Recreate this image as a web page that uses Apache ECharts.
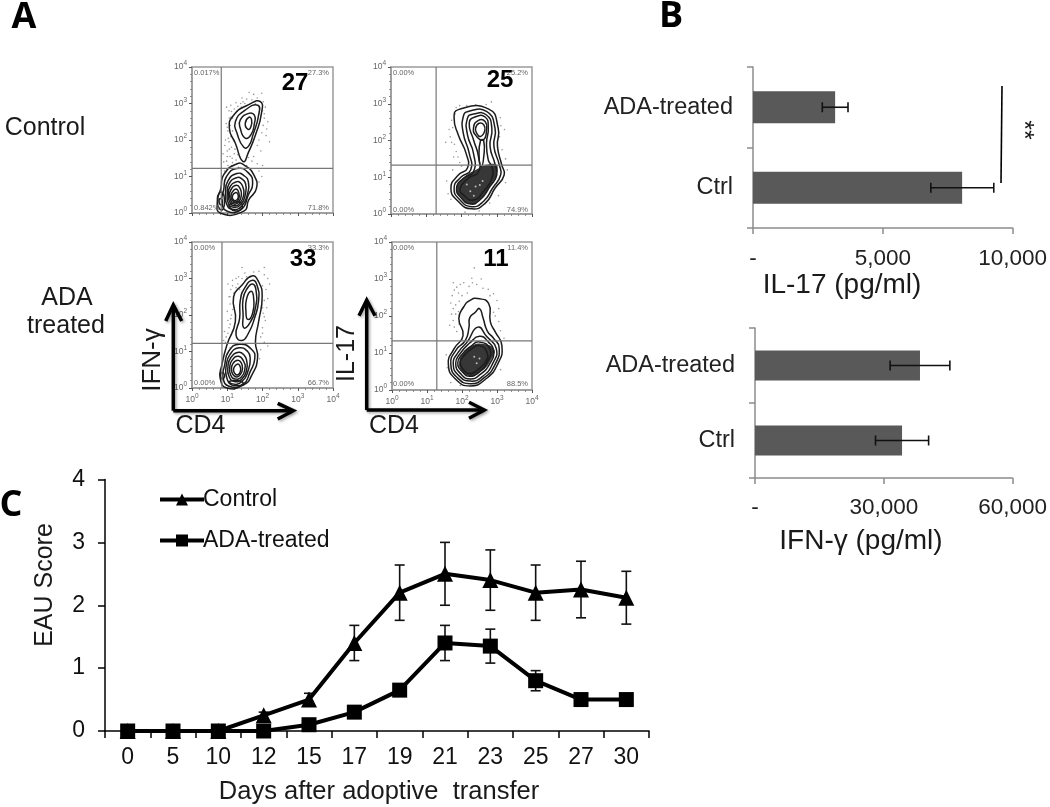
<!DOCTYPE html>
<html><head><meta charset="utf-8">
<style>html,body{margin:0;padding:0;background:#fff}#c{width:1050px;height:807px}</style>
<script src="https://cdn.jsdelivr.net/npm/echarts@6/dist/echarts.min.js"></script>
</head><body><div id="c"></div>
<script>
// ---------- panel C ----------
const days=['0','5','10','12','15','17','19','21','23','25','27','30'];
const control=[0,0,0,0.25,0.5,1.4,2.2,2.5,2.4,2.2,2.25,2.12];
const controlLow=[0,0,0,0.15,0.4,1.12,1.76,2.0,1.92,1.76,1.8,1.7];
const controlHigh=[0,0,0,0.3,0.6,1.68,2.64,3.0,2.88,2.64,2.7,2.54];
const ada=[0,0,0,0,0.1,0.3,0.65,1.4,1.35,0.8,0.5,0.5];
const adaLow=[0,0,0,0,0.07,0.25,0.58,1.12,1.08,0.64,0.45,0.45];
const adaHigh=[0,0,0,0,0.13,0.35,0.72,1.68,1.62,0.96,0.55,0.55];
const eauTicks=[0,1,2,3,4];
// ---------- panel B ----------
const groups=['Ctrl','ADA-treated'];
const il17=[8056,3164];
const il17Low=[6850,2670];
const il17High=[9275,3660];
const ifng=[34250,38430];
const ifngLow=[28070,31470];
const ifngHigh=[40440,45390];
// ---------- panel A : flow plots, coordinates in log10 decades ----------
const decades=[0,1,2,3,4];
const gates=[[0.83,1.22],[1.28,1.33],[0.85,1.22],[1.28,1.33]];
const ringsTL=[
[1.45,1.41,1.23,1.91,1.06,2.32,1.18,2.68,1.61,2.97,1.94,3.05,1.97,2.73,1.80,2.14,1.61,1.68],
[1.47,1.80,1.28,2.18,1.23,2.50,1.51,2.82,1.87,2.95,1.89,2.68,1.73,2.14,1.61,1.84],
[1.51,2.05,1.37,2.32,1.37,2.55,1.61,2.73,1.77,2.68,1.77,2.45,1.67,2.14],
[1.59,2.29,1.51,2.45,1.61,2.62,1.69,2.56,1.67,2.36],
[1.28,1.35,0.90,1.05,0.82,0.68,0.73,0.36,0.80,0.0,1.47,0.05,1.61,0.36,1.83,0.68,1.75,1.05,1.51,1.29],
[1.27,1.22,0.98,1.0,0.9,0.65,0.85,0.3,1.0,0.05,1.4,0.1,1.6,0.5,1.72,0.8,1.6,1.1],
[1.27,1.08,1.02,0.88,0.95,0.55,0.98,0.25,1.15,0.1,1.42,0.2,1.58,0.55,1.6,0.85,1.48,1.02],
[1.27,0.97,1.05,0.8,1.0,0.52,1.03,0.27,1.18,0.16,1.4,0.25,1.52,0.55,1.52,0.8,1.42,0.93],
[1.27,0.86,1.08,0.72,1.03,0.5,1.07,0.3,1.2,0.2,1.37,0.28,1.47,0.52,1.44,0.72,1.37,0.83],
[1.26,0.76,1.1,0.63,1.07,0.45,1.12,0.3,1.22,0.24,1.34,0.32,1.4,0.5,1.37,0.66],
[1.25,0.66,1.13,0.55,1.11,0.42,1.17,0.32,1.26,0.3,1.33,0.4,1.33,0.55],
[1.24,0.56,1.15,0.48,1.16,0.38,1.24,0.34,1.31,0.42,1.3,0.52],
[0.78,0.55,0.72,0.35,0.78,0.12,0.88,0.1,0.92,0.35,0.87,0.55],
[0.8,0.4,0.77,0.3,0.82,0.22,0.86,0.32],
[1.05,0.2,1.2,0.06,1.42,0.14,1.35,0.3,1.12,0.25]];
const ringsTR=[
[1.79,2.61,1.91,2.84,2.76,2.86,3.04,2.34,3.02,1.84,3.14,1.34,3.21,1.06,2.95,0.70,2.67,0.29,2.29,0.14,1.91,0.34,1.70,0.70,1.91,1.06,2.17,1.25,2.13,1.65,1.91,2.15],
[2.05,2.65,2.19,2.79,2.71,2.79,2.95,2.34,2.92,1.84,3.07,1.34,3.11,1.06,2.88,0.70,2.62,0.34,2.29,0.2,1.96,0.38,1.79,0.70,1.98,1.0,2.26,1.2,2.22,1.65,2.05,2.2],
[2.17,2.61,2.34,2.72,2.7,2.7,2.86,2.34,2.81,1.84,2.95,1.36,3.0,1.06,2.81,0.75,2.52,0.38,2.26,0.27,2.0,0.43,1.86,0.7,2.05,0.97,2.34,1.15,2.34,1.65,2.17,2.15],
[2.22,2.47,2.38,2.64,2.67,2.64,2.76,2.34,2.71,1.93,2.76,1.47,2.86,1.29,2.88,1.02,2.62,0.61,2.34,0.38,2.05,0.52,1.96,0.7,2.19,0.97,2.48,1.15,2.48,1.57,2.34,2.02],
[2.34,2.34,2.48,2.55,2.67,2.52,2.71,2.29,2.62,2.02,2.43,2.11],
[2.4,2.34,2.5,2.47,2.63,2.43,2.66,2.27,2.54,2.11,2.43,2.2],
[2.54,2.0,2.5,1.55,2.56,1.28,2.63,1.55,2.63,2.0]];
const ringsBL=[
[1.7,3.07,1.89,2.91,1.99,2.5,1.89,1.82,1.8,1.27,1.86,0.82,1.7,0.36,1.47,0.09,0.99,0,0.8,0.27,0.85,0.64,0.99,1.18,1.23,1.82,1.18,2.5,1.42,2.82],
[1.72,2.95,1.85,2.8,1.89,2.4,1.77,1.9,1.6,1.5,1.42,1.3,1.25,1.45,1.35,1.9,1.37,2.4,1.5,2.75],
[1.72,2.85,1.82,2.65,1.8,2.2,1.65,1.8,1.47,1.65,1.45,2.0,1.45,2.45,1.55,2.7],
[1.68,2.65,1.75,2.45,1.72,2.05,1.58,1.88,1.53,2.1,1.55,2.45],
[1.35,1.2,1.05,1.02,0.92,0.6,0.88,0.28,1.05,0.05,1.45,0.1,1.65,0.45,1.78,0.8,1.7,1.05],
[1.33,1.1,1.08,0.92,0.97,0.6,0.98,0.3,1.12,0.12,1.42,0.18,1.6,0.5,1.65,0.8,1.58,1.0],
[1.32,0.98,1.1,0.83,1.02,0.58,1.05,0.32,1.2,0.18,1.42,0.25,1.55,0.5,1.55,0.75,1.48,0.9],
[1.32,0.87,1.13,0.75,1.07,0.55,1.1,0.35,1.22,0.25,1.4,0.3,1.5,0.52,1.47,0.72],
[1.3,0.76,1.16,0.67,1.12,0.5,1.17,0.36,1.27,0.3,1.38,0.38,1.43,0.52,1.4,0.68],
[1.3,0.66,1.2,0.58,1.18,0.47,1.24,0.37,1.33,0.38,1.38,0.5,1.36,0.6],
[0.83,0.42,0.8,0.34,0.85,0.25,0.92,0.3,0.9,0.4],
[1.05,0.14,1.25,0.06,1.45,0.12,1.35,0.2,1.12,0.2]];
const ringsBR=[
[2.45,2.47,2.76,2.34,2.81,1.84,2.95,1.57,3.14,1.2,3.02,0.7,2.67,0.29,2.24,0.11,1.82,0.29,1.61,0.7,1.77,1.11,2.03,1.47,1.91,1.93,2.05,2.25,2.24,2.43],
[2.5,2.2,2.6,1.95,2.72,1.6,2.9,1.4,3.06,1.15,2.95,0.7,2.62,0.32,2.24,0.17,1.87,0.33,1.68,0.7,1.83,1.08,2.1,1.35,2.2,1.7,2.22,1.95,2.38,2.1],
[2.45,1.7,2.7,1.45,2.98,1.12,2.88,0.72,2.58,0.36,2.24,0.24,1.92,0.38,1.75,0.7,1.9,1.03,2.15,1.3],
[2.5,1.45,2.75,1.3,2.9,1.05,2.8,0.72,2.52,0.42,2.24,0.3,1.97,0.43,1.82,0.72,1.96,1.0,2.22,1.27],
[2.5,1.3,2.8,1.1,2.72,0.75,2.48,0.48,2.22,0.37,2.02,0.48,1.88,0.73,2.02,0.98,2.25,1.18],
[2.5,1.2,2.72,1.0,2.66,0.75,2.44,0.54,2.22,0.44,2.06,0.53,1.95,0.75,2.08,0.95,2.28,1.12]];
const allRings=[ringsTL,ringsTR,ringsBL,ringsBR];
const patchTR=[2.3,1.15,2.95,1.36,3.0,1.06,2.81,0.75,2.52,0.38,2.26,0.27,2.0,0.43,1.86,0.7,2.05,0.97];
const patchBR=[2.55,1.25,2.92,1.1,2.82,0.8,2.55,0.5,2.25,0.38,2.0,0.5,1.92,0.75,2.05,1.0,2.25,1.18];
const allPatches=[null,patchTR,null,patchBR];
const dotsTL=[1.02,1.3,1.08,1.55,1.12,1.8,0.98,1.42,1.05,1.95,1.15,1.38,1.2,1.62,1.0,1.7,1.1,2.1,1.18,1.98,1.02,2.25,0.97,2.45,1.06,2.6,1.12,2.78,1.2,2.85,1.3,2.92,1.38,3.0,1.45,3.05,1.55,3.12,1.7,3.1,1.85,3.15,1.98,3.28,2.02,3.05,2.08,2.9,2.0,2.8,2.05,2.6,2.02,2.4,1.98,2.2,2.1,2.12,1.9,2.0,1.85,1.85,1.95,1.7,1.75,1.55,1.85,1.35,1.9,1.15,2.0,1.3,1.98,1.0,1.9,0.85,0.98,2.9,1.1,2.95,1.25,3.02,1.3,1.6,1.32,1.25,1.55,1.3,1.7,1.42,1.6,1.52,1.36,1.55,0.92,1.15,0.9,1.4,0.88,1.62,0.95,2.0,0.93,1.85,1.15,2.25,1.08,2.4,1.75,3.25,2.05,2.72,1.8,3.0,1.42,3.15,1.62,3.3,2.15,2.5,2.12,2.3,2.2,1.95,1.0,1.55,1.06,1.75,1.14,1.5,1.22,1.75,1.25,1.45,1.12,1.3,1.03,2.05,1.0,2.35,1.1,2.62,1.05,2.8,1.28,2.78,1.4,2.9,1.5,3.0,1.15,2.6];
const dotsTR=[1.72,2.55,1.75,2.35,1.68,2.1,1.8,1.9,1.85,1.7,1.72,1.95,1.9,1.55,1.95,1.4,2.0,1.3,1.82,2.72,1.85,2.9,1.95,2.95,2.15,2.95,2.4,2.97,2.7,2.98,2.85,3.05,3.1,2.62,3.12,2.4,3.08,2.1,3.22,2.3,3.15,1.75,3.25,1.5,3.3,1.2,3.25,0.85,3.05,0.5,2.8,0.3,2.5,0.08,2.1,0.05,1.7,0.4,1.62,0.55,1.58,0.9,1.75,1.2,1.78,1.55,1.65,2.3,1.55,1.95];
const dotsBL=[0.95,1.25,1.02,1.5,1.08,1.75,1.12,2.0,1.02,1.85,0.92,1.55,0.9,1.3,1.0,2.1,1.08,2.3,1.05,2.5,1.1,2.7,1.02,2.85,1.15,2.95,1.25,2.75,1.32,3.05,1.42,3.0,1.42,3.3,1.5,3.15,1.55,3.05,1.9,3.2,2.05,3.1,2.15,3.0,2.2,2.85,2.1,2.7,2.05,2.4,2.12,2.2,2.02,2.05,2.08,1.85,2.0,1.65,1.95,1.4,2.05,1.25,2.15,1.15,1.95,1.05,1.92,0.8,1.2,2.2,1.15,1.55,1.18,2.6,1.25,3.0,1.35,2.7,1.3,2.85,2.0,2.8,2.05,3.3,1.75,3.18,2.15,2.45,1.08,1.1,1.0,0.95,1.1,1.9,1.15,2.15,1.08,2.5,1.15,2.8,1.05,1.65,0.97,1.4,1.1,1.45,2.0,2.2,2.05,1.95,2.0,1.5];
const dotsBR=[1.75,2.9,1.85,2.78,1.95,2.85,2.05,2.9,2.2,2.8,2.15,2.62,2.0,2.55,1.9,2.62,1.78,2.7,1.72,2.55,1.68,2.35,1.75,2.2,1.82,2.3,1.92,2.4,1.7,2.05,1.75,1.88,1.78,1.7,1.85,1.58,1.65,1.75,1.82,2.05,1.9,2.12,1.92,1.78,2.3,2.9,2.42,2.85,2.55,3.0,2.6,2.75,2.75,2.72,2.9,2.6,2.8,2.55,3.0,2.42,3.05,2.2,2.9,2.1,2.95,2.0,3.05,1.85,3.1,1.6,3.2,1.4,2.35,3.3,2.28,3.02,1.68,0.2,1.95,0.12,1.55,0.95,1.58,0.6,3.1,0.55];
const allDots=[dotsTL,dotsTR,dotsBL,dotsBR];
const speckBR=[2.5,0.85,2.35,0.9,2.42,0.72];
const speckTR=[2.52,0.79,2.4,0.75,2.25,0.62,2.6,0.9,2.15,0.8,2.35,0.5];
const allSpecks=[[],speckTR,[],speckBR];
const pctLabels=[['0.017%','27.3%','0.842%','71.8%'],['0.00%','25.2%','0.00%','74.9%'],['0.00%','33.3%','0.00%','66.7%'],['0.00%','11.4%','0.00%','88.5%']];
const bigLabels=['27','25','33','11'];

function pairs(a){const o=[];for(let i=0;i<a.length;i+=2)o.push([a[i],a[i+1]]);return o;}

const FS='"Liberation Sans",Arial,sans-serif';
const flowBoxes=[
 {left:192,top:67,width:141,height:146},
 {left:391,top:67,width:141,height:147},
 {left:192,top:242,width:141,height:146},
 {left:392,top:242,width:140,height:148}];
const grid=[],xAxis=[],yAxis=[],series=[];
const supLabel=v=>`{b|10}{s|${v}}`;
const supRich={b:{fontSize:8.5,color:'#666',fontFamily:FS},s:{fontSize:6.5,color:'#666',fontFamily:FS,padding:[0,0,7,0]}};
flowBoxes.forEach((b,i)=>{
  grid.push(Object.assign({show:true,borderColor:'#9a9a9a',borderWidth:1.5,backgroundColor:'#fff'},b));
  const ax=(showLabel)=>({type:'value',min:0,max:4,interval:1,gridIndex:i,splitLine:{show:false},
    axisLine:{show:true,onZero:false,lineStyle:{color:'#9a9a9a',width:1.5}},
    axisTick:{show:true,length:3,lineStyle:{color:'#555',width:1}},
    minorTick:{show:true,splitNumber:5,length:2,lineStyle:{color:'#777',width:0.8}},
    axisLabel:{show:showLabel,formatter:supLabel,rich:supRich,margin:5,showMinLabel:true,showMaxLabel:true}});
  xAxis.push(ax(i>=2));
  yAxis.push(ax(true));
  const gl=gates[i];
  const base={xAxisIndex:i,yAxisIndex:i,animation:false,silent:true};
  series.push(Object.assign({type:'scatter',data:pairs(allDots[i]),symbolSize:1.6,itemStyle:{color:'#777',opacity:.75},z:2},base));
  if(allPatches[i]){
    const pts=pairs(allPatches[i]);
    series.push(Object.assign({type:'custom',z:3,data:[[pts[0][0],pts[0][1]]],encode:{x:0,y:1},
      renderItem:(p,api)=>({type:'polygon',shape:{points:pts.map(q=>api.coord(q)),smooth:0.5},
          style:{fill:'#262626',opacity:.92}})},base));
  }
  const rings=allRings[i].map(pairs);
  series.push(Object.assign({type:'custom',z:4,data:rings.map((r,k)=>[r[0][0],r[0][1],k]),encode:{x:0,y:1},
    renderItem:(p,api)=>({type:'polygon',shape:{points:rings[api.value(2)].map(q=>api.coord(q)),smooth:0.55},
      style:{fill:'none',stroke:'#1c1c1c',lineWidth:1.5}})},base));
  if(allSpecks[i].length){
    series.push(Object.assign({type:'scatter',data:pairs(allSpecks[i]),symbolSize:2,itemStyle:{color:'#d8d8d8'},z:5},base));
  }
  series.push(Object.assign({type:'line',data:[[gl[0],0],[gl[0],4]],showSymbol:false,symbol:'none',z:6,lineStyle:{color:'#777',width:1.2}},base));
  series.push(Object.assign({type:'line',data:[[0,gl[1]],[4,gl[1]]],showSymbol:false,symbol:'none',z:6,lineStyle:{color:'#777',width:1.2}},base));
});

// bars of panel B
const barSpec=[
 {g:{left:753,top:67,width:262,height:161},max:10000,itv:5000,vals:il17,lo:il17Low,hi:il17High},
 {g:{left:755,top:328,width:259,height:150},max:60000,itv:30000,vals:ifng,lo:ifngLow,hi:ifngHigh}];
barSpec.forEach((s,k)=>{
  const gi=4+k;
  grid.push(s.g);
  xAxis.push({type:'value',gridIndex:gi,min:0,max:s.max,interval:s.itv,splitLine:{show:false},
    axisLine:{show:true,lineStyle:{color:'#8c8c8c',width:1.5}},
    axisTick:{show:true,length:6,lineStyle:{color:'#8c8c8c',width:1.5}},
    axisLabel:{color:'#222',fontFamily:FS,fontSize:22.5,margin:k?18:19,
      formatter:v=>v===0?'-':v.toLocaleString('en-US')}});
  yAxis.push({type:'category',gridIndex:gi,data:groups,
    axisLine:{show:true,onZero:false,lineStyle:{color:'#8c8c8c',width:1.5}},
    axisTick:{show:true,length:6,lineStyle:{color:'#8c8c8c',width:1.5}},
    axisLabel:{color:'#222',fontFamily:FS,fontSize:23.5,margin:20}});
  series.push({type:'bar',xAxisIndex:gi,yAxisIndex:gi,data:s.vals,barWidth:'40%',itemStyle:{color:'#595959'},animation:false,silent:true,z:2});
  series.push({type:'custom',xAxisIndex:gi,yAxisIndex:gi,animation:false,silent:true,z:3,
    data:s.vals.map((v,j)=>[j,s.lo[j],s.hi[j]]),encode:{x:[1,2],y:0},
    renderItem:(p,api)=>{
      const a=api.coord([api.value(1),api.value(0)]),b=api.coord([api.value(2),api.value(0)]);
      const st={stroke:'#111',lineWidth:1.6,fill:'none'};
      return {type:'group',children:[
       {type:'line',shape:{x1:a[0],y1:a[1],x2:b[0],y2:b[1]},style:st},
       {type:'line',shape:{x1:a[0],y1:a[1]-5,x2:a[0],y2:a[1]+5},style:st},
       {type:'line',shape:{x1:b[0],y1:b[1]-5,x2:b[0],y2:b[1]+5},style:st}]};
    }});
});

// panel C
const cIdx=6;
grid.push({left:105,top:479.5,width:544,height:251.5});
xAxis.push({type:'category',gridIndex:cIdx,data:days,axisLine:{show:true,lineStyle:{color:'#000',width:1.5}},
  axisTick:{show:true,length:7,lineStyle:{color:'#000',width:1.5}},
  axisLabel:{color:'#111',fontFamily:FS,fontSize:23,margin:15}});
yAxis.push({type:'value',gridIndex:cIdx,min:0,max:4,interval:1,splitLine:{show:false},
  axisLine:{show:true,lineStyle:{color:'#000',width:1.5}},
  axisTick:{show:true,length:7,lineStyle:{color:'#000',width:1.5}},
  axisLabel:{color:'#111',fontFamily:FS,fontSize:23,margin:20,formatter:v=>eauTicks.includes(v)?String(v):''}});
function errSeries(lo,hi){
  return {type:'custom',xAxisIndex:cIdx,yAxisIndex:cIdx,animation:false,silent:true,z:3,
    data:days.map((d,j)=>[j,lo[j],hi[j]]),encode:{x:0,y:[1,2]},
    renderItem:(p,api)=>{
      const a=api.coord([api.value(0),api.value(1)]),b=api.coord([api.value(0),api.value(2)]);
      const st={stroke:'#111',lineWidth:1.6,fill:'none'};
      return {type:'group',children:[
       {type:'line',shape:{x1:a[0],y1:a[1],x2:b[0],y2:b[1]},style:st},
       {type:'line',shape:{x1:a[0]-5,y1:a[1],x2:a[0]+5,y2:a[1]},style:st},
       {type:'line',shape:{x1:b[0]-5,y1:b[1],x2:b[0]+5,y2:b[1]},style:st}]};
    }};
}
series.push(errSeries(controlLow,controlHigh));
series.push(errSeries(adaLow,adaHigh));
series.push({name:'Control',type:'line',xAxisIndex:cIdx,yAxisIndex:cIdx,data:control,symbol:'triangle',symbolSize:16,showAllSymbol:true,
  lineStyle:{color:'#000',width:4},itemStyle:{color:'#000'},animation:false,silent:true,z:4});
series.push({name:'ADA-treated',type:'line',xAxisIndex:cIdx,yAxisIndex:cIdx,data:ada,symbol:'rect',symbolSize:15,showAllSymbol:true,
  lineStyle:{color:'#000',width:4},itemStyle:{color:'#000'},animation:false,silent:true,z:5});

// annotations
const T=(text,x,y,size,o={})=>({type:'text',x,y,rotation:o.rot||0,z:50,style:Object.assign({text,fill:o.fill||'#1a1a1a',
  font:`${o.weight||'normal'} ${size}px ${o.family||FS}`,textAlign:o.align||'center',textVerticalAlign:'middle'},o.style||{})});
const poly=(pts,w=3.5)=>({type:'polyline',z:50,shape:{points:pts},style:{stroke:'#000',lineWidth:w,fill:'none',lineJoin:'miter',shadowBlur:w>2?3:0,shadowColor:'rgba(0,0,0,.35)',shadowOffsetX:w>2?1.5:0,shadowOffsetY:w>2?1.5:0}});
const PS='"Open Sans","Noto Sans",sans-serif';
const pctPos=[[[194,73,'left'],[329,73,'right'],[194,208,'left'],[329,208,'right']],
 [[393,73,'left'],[528,73,'right'],[393,210,'left'],[528,210,'right']],
 [[194,248,'left'],[329,248,'right'],[194,383,'left'],[329,383,'right']],
 [[393,248,'left'],[528,248,'right'],[393,384,'left'],[528,384,'right']]];
const bigPos=[[295,83],[500,80],[303,259],[496,259]];
const graphic=[
  T('A',24,18,36,{weight:'bold',family:PS,fill:'#000'}),
  T('B',671,17,36,{weight:'bold',family:PS,fill:'#000'}),
  T('C',11,506,36,{weight:'bold',family:PS,fill:'#000'}),
  T('Control',45,128,25),T('ADA',67,298,25),T('treated',66,326,25),
  poly([[173.3,410.7],[173.3,307]]),poly([[173.3,410.7],[291,410.7]]),
  poly([[165.7,321],[173.3,305],[181.7,321]]),poly([[277.7,403.3],[293.3,410.7],[277.7,419]]),
  poly([[366.7,410],[366.7,302]]),poly([[366.7,410],[482,410]]),
  poly([[359,315.7],[366.7,300],[375,315.7]]),poly([[469,402.3],[484.3,410],[469,418.3]]),
  T('CD4',200.5,426,25),T('CD4',394,426,25),
  T('IFN-γ',153,360,26,{rot:Math.PI/2}),T('IL-17',347,353.5,25,{rot:Math.PI/2}),
  T('IL-17 (pg/ml)',842,285,28),T('IFN-γ (pg/ml)',861,541,28),
  poly([[1002,86],[1001,183]],1.6),
  T('**',1023,130,25,{rot:-Math.PI/2}),
  T('EAU Score',45,585,25,{rot:Math.PI/2}),
  T('Days after adoptive  transfer',379,792,25.5)
];
pctLabels.forEach((row,i)=>row.forEach((t,j)=>{const p=pctPos[i][j];graphic.push(T(t,p[0],p[1],7.5,{fill:'#666',align:p[2]}));}));
bigLabels.forEach((t,i)=>graphic.push(T(t,bigPos[i][0],bigPos[i][1],24,{weight:'bold',fill:'#000'})));

const chart=echarts.init(document.getElementById('c'),null,{renderer:'canvas'});
chart.setOption({backgroundColor:'#fff',animation:false,grid,xAxis,yAxis,series,graphic,
  legend:{data:['Control','ADA-treated'],orient:'vertical',left:153,top:483,itemWidth:44,itemHeight:15,itemGap:18,selectedMode:false,
    lineStyle:{width:4,color:'#000'},
    textStyle:{color:'#111',fontFamily:FS,fontSize:23,padding:[0,0,0,-6]}},
  tooltip:{show:false}});
</script></body></html>
